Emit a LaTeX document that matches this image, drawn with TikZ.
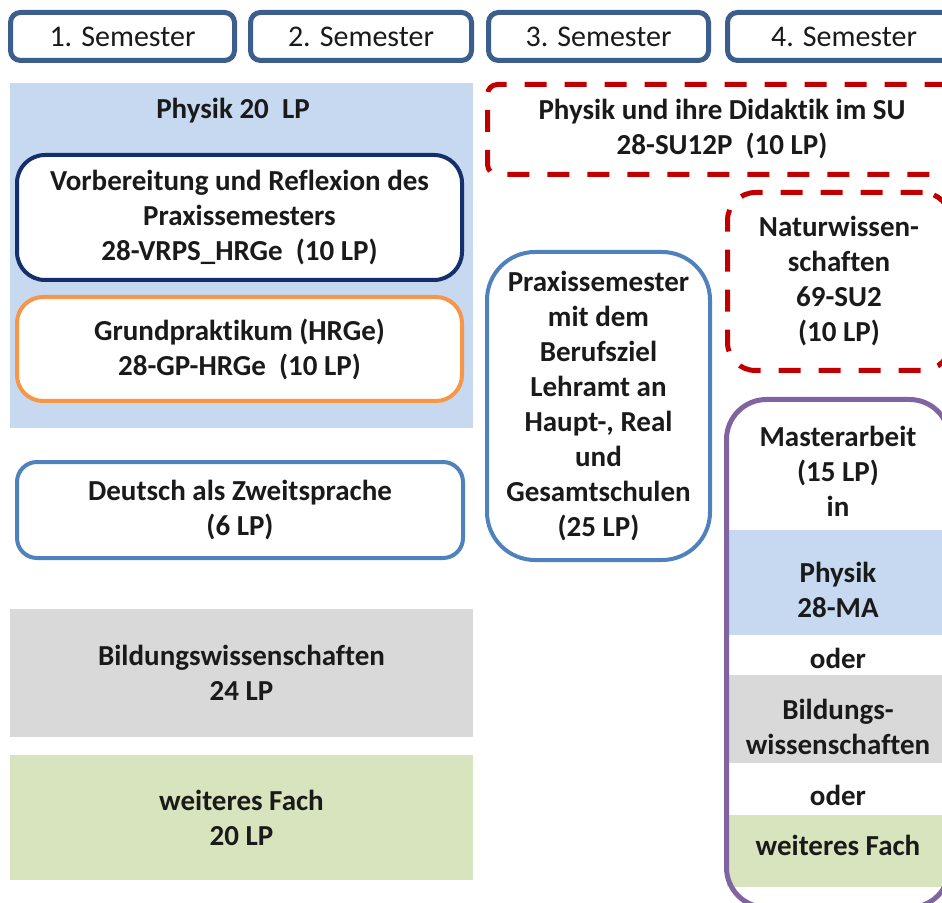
\documentclass[tikz,border=0pt]{standalone}
\usepackage{fontspec}
\setmainfont{Carlito}[Ligatures={NoCommon}]
\definecolor{semc}{HTML}{3B5E8C}
\definecolor{navy}{HTML}{142F6B}
\definecolor{orangeb}{HTML}{F79646}
\definecolor{blueb}{HTML}{4F81BD}
\definecolor{redb}{HTML}{C00000}
\definecolor{purpleb}{HTML}{8064A2}
\definecolor{lblue}{HTML}{C6D9F1}
\definecolor{lgrey}{HTML}{D9D9D9}
\definecolor{lgreen}{HTML}{D7E4BD}
\definecolor{txt}{HTML}{1A1A1A}
\begin{document}
\begin{tikzpicture}[x=0.5pt,y=-0.5pt,
  every node/.style={font=\bfseries\fontsize{14.5}{17.5}\selectfont, text=txt, align=center, inner sep=0pt},
  sembox/.style={draw=semc, line width=2.5pt, rounded corners=5pt, fill=white, minimum height=24pt, font=\fontsize{15}{18}\selectfont},
  fillbox/.style={rectangle, minimum width=231.5pt},
  modbox/.style={draw, line width=2pt, fill=white},
  redbox/.style={draw=redb, line width=2.5pt, dash pattern=on 11pt off 9pt, fill=white},
  band/.style={rectangle, minimum width=116.5pt}
]
\useasboundingbox (0,0) rectangle (942,903);
\clip (0,0) rectangle (942,903);
% semester headers
\node[sembox, minimum width=112pt] (s1) at (122.5,36.5) {1. Semester};
\node[sembox, minimum width=110.5pt] (s2) at (361,36.5) {2. Semester};
\node[sembox, minimum width=110pt] (s3) at (598.5,36.5) {3. Semester};
\node[sembox, minimum width=116.5pt] (s4) at (844,36.5) {4. Semester};
% left column
\node[fillbox, fill=lblue, minimum height=172.5pt] (physbg) at (241.5,255.5) {};
\node (physlabel) at (233,111) {Physik 20\ \ LP};
\node[modbox, draw=navy, rounded corners=14pt, minimum width=222.5pt, minimum height=62.5pt] (vrps) at (239.5,217.5)
  {Vorbereitung und Reflexion des\\Praxissemesters\\28-VRPS\_HRGe\ \ (10 LP)};
\node[modbox, draw=orangeb, rounded corners=13pt, minimum width=222.5pt, minimum height=52pt] (gp) at (239.5,349)
  {Grundpraktikum (HRGe)\\28-GP-HRGe\ \ (10 LP)};
\node[modbox, draw=blueb, rounded corners=10pt, minimum width=223pt, minimum height=48pt] (daz) at (240,510)
  {Deutsch als Zweitsprache\\(6 LP)};
\node[fillbox, fill=lgrey, minimum height=64pt] (bw) at (241.5,673) {Bildungswissenschaften\\24 LP};
\node[fillbox, fill=lgreen, minimum height=62.5pt] (wf) at (241.5,817.5) {weiteres Fach\\20 LP};
% third column
\node[redbox, rounded corners=5pt, minimum width=234.5pt, minimum height=45pt] (su) at (722,129.5)
  {Physik und ihre Didaktik im SU\\28-SU12P\ \ (10 LP)};
\node[modbox, draw=blueb, rounded corners=24pt, minimum width=111.5pt, minimum height=154pt] (ps) at (598.5,406)
  {Praxissemester\\mit dem\\Berufsziel\\Lehramt an\\Haupt-, Real\\und\\Gesamtschulen\\(25 LP)};
% fourth column
\node[redbox, rounded corners=14pt, minimum width=111.5pt, minimum height=89pt] (nw) at (839,281.5)
  {Naturwissen-\\schaften\\69-SU2\\(10 LP)};
\node[band, fill=lblue, minimum height=52.5pt] (bphys) at (843.5,582.5) {};
\node[band, fill=lgrey, minimum height=44pt] (bbw) at (843.5,719) {};
\node[band, fill=lgreen, minimum height=36pt] (bwf) at (843.5,851) {};
\node[draw=purpleb, line width=2.5pt, rounded corners=20pt, minimum width=111.5pt, minimum height=254pt] (ma) at (838,653.5) {};
\node (matext) at (838,471) {Masterarbeit\\(15 LP)\\in};
\node (maphys) at (838,590) {Physik\\28-MA};
\node (oder1) at (838,658) {oder};
\node (mabw) at (838,727) {Bildungs-\\wissenschaften};
\node (oder2) at (838,795) {oder};
\node (mawf) at (838,845) {weiteres Fach};
\end{tikzpicture}
\end{document}
